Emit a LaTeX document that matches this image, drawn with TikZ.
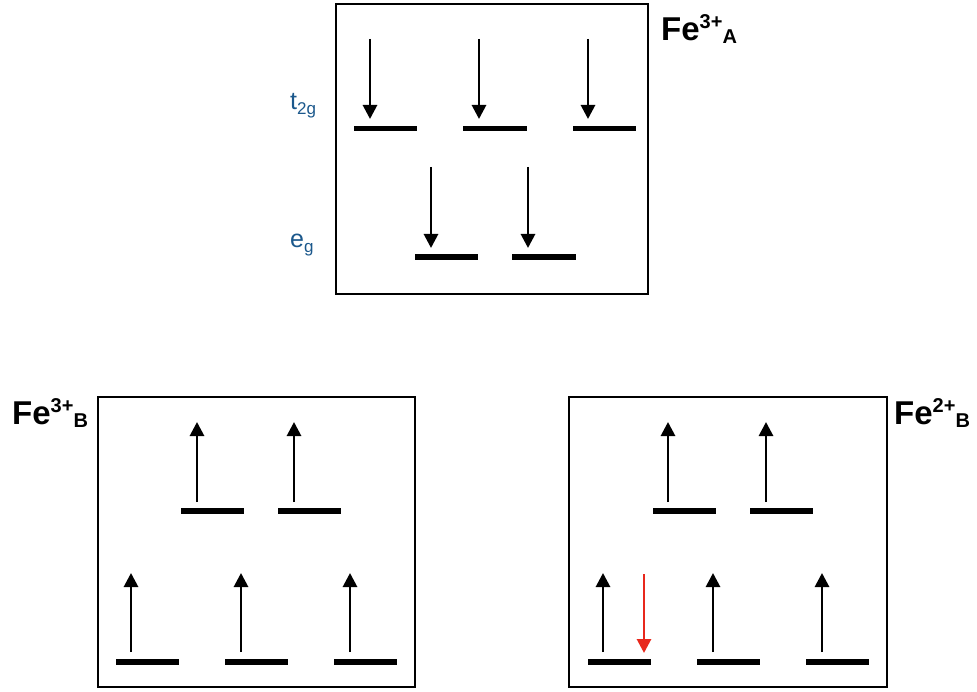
\documentclass[tikz,border=0pt]{standalone}
\usepackage{fontspec}
\setmainfont{Liberation Sans}
\usetikzlibrary{arrows.meta}
\definecolor{lblblue}{RGB}{27,88,140}
\definecolor{spinred}{RGB}{232,40,28}
\newcommand{\felabel}[3]{{\fontsize{33}{38}\selectfont\bfseries Fe}{\fontsize{20}{23}\selectfont\bfseries\raisebox{12pt}{#1}}{\fontsize{20}{23}\selectfont\bfseries\raisebox{-3pt}{#2}}}
\begin{document}
\begin{tikzpicture}[x=1pt,y=-1pt,
  boxline/.style={draw=black,line width=2.5pt},
  level/.style={line width=5.5pt},
  spin/.style={line width=2.8pt,-{Triangle[length=14pt,width=14pt]}},
  spinred/.style={spin,draw=spinred,-{Triangle[length=14pt,width=14pt,fill=spinred]}},
  felbl/.style={anchor=base west,inner sep=0pt},
  orb/.style={anchor=base west,inner sep=0pt,text=lblblue}]
\useasboundingbox (0,0) rectangle (977,692);
\fill[white] (0,0) rectangle (977,692);

% ---------- top box: Fe3+ A ----------
\draw[boxline] (336,4) rectangle (648,294);
\foreach \a/\b in {354/417,463/527,573/636} \draw[level] (\a,128.5) -- (\b,128.5);
\foreach \x in {370,479,588} \draw[spin] (\x,39) -- (\x,119);
\foreach \a/\b in {415/478,512/576} \draw[level] (\a,257) -- (\b,257);
\foreach \x in {431,528} \draw[spin] (\x,167) -- (\x,248);
\node[felbl] (feA) at (661,41) {\felabel{3+}{A}{}};
\node[orb] (t2g) at (290,110) {{\fontsize{25}{28}\selectfont t}{\fontsize{17}{20}\selectfont\raisebox{-5pt}{2g}}};
\node[orb] (eg) at (290,248) {{\fontsize{25}{28}\selectfont e}{\fontsize{17}{20}\selectfont\raisebox{-5pt}{g}}};

% ---------- bottom left box: Fe3+ B ----------
\draw[boxline] (98,397) rectangle (415,687);
\foreach \a/\b in {181/244,278/341} \draw[level] (\a,511) -- (\b,511);
\foreach \x in {197,294} \draw[spin] (\x,502) -- (\x,422);
\foreach \a/\b in {116/179,225/288,334/397} \draw[level] (\a,662) -- (\b,662);
\foreach \x in {131,241,350} \draw[spin] (\x,652) -- (\x,573);
\node[felbl] (feB3) at (12,424) {\felabel{3+}{B}{}};

% ---------- bottom right box: Fe2+ B ----------
\draw[boxline] (569,397) rectangle (887,687);
\foreach \a/\b in {653/716,750/813} \draw[level] (\a,511) -- (\b,511);
\foreach \x in {668,766} \draw[spin] (\x,502) -- (\x,422);
\foreach \a/\b in {588/651,697/760,806/869} \draw[level] (\a,662) -- (\b,662);
\foreach \x in {603,713,822} \draw[spin] (\x,652) -- (\x,573);
\draw[spinred] (644,574) -- (644,653);
\node[felbl] (feB2) at (894,424) {\felabel{2+}{B}{}};
\end{tikzpicture}
\end{document}
